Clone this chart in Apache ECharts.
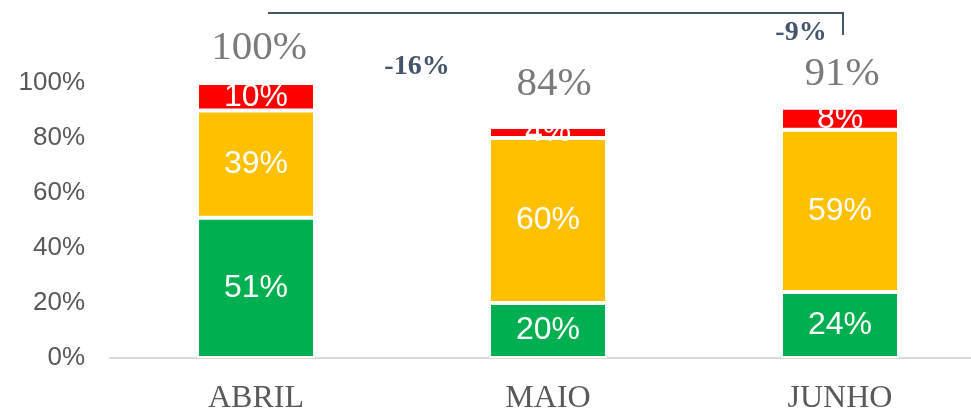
<!DOCTYPE html>
<html>
<head>
<meta charset="utf-8">
<script src="https://cdn.jsdelivr.net/npm/echarts@6/dist/echarts.min.js"></script>
<style>
    html, body { margin: 0; padding: 0; background: #fff; }
    #chart { width: 971px; height: 410px; }
</style>
</head>
<body>
<div id="chart"></div>
<script>
    // dados
    var meses = ['ABRIL', 'MAIO', 'JUNHO'];
    var verde = [51, 20, 24];
    var amarelo = [39, 60, 59];
    var vermelho = [10, 4, 8];
    var variacoes = ['-16%', '-9%'];

    // deslocamento dos rótulos de total (estilo)
    var offsetTotal = [[3, -35], [6, -43], [2, -34]];

    var totais = meses.map(function (m, i) {
        return verde[i] + amarelo[i] + vermelho[i];
    });

    var chart = echarts.init(document.getElementById('chart'));

    function serieBarra(nome, dados, cor) {
        return {
            name: nome,
            type: 'bar',
            stack: 'total',
            barWidth: 118,
            data: dados,
            itemStyle: { color: cor, borderColor: '#fff', borderWidth: 2 },
            label: {
                show: true,
                position: 'inside',
                formatter: '{c}%',
                color: '#fff',
                fontFamily: 'Liberation Sans',
                fontSize: 32
            }
        };
    }

    var option = {
        animation: false,
        backgroundColor: '#fff',
        grid: { left: 110, width: 876, top: 83, bottom: 52, outerBoundsMode: 'none', containLabel: false },
        xAxis: {
            type: 'category',
            data: meses,
            axisLine: { lineStyle: { color: '#D9D9D9', width: 2 } },
            axisTick: { show: false },
            axisLabel: {
                color: '#595959',
                fontFamily: 'Liberation Serif',
                fontSize: 32,
                margin: 25
            }
        },
        yAxis: {
            type: 'value',
            min: 0,
            max: 100,
            interval: 20,
            axisLine: { show: false },
            axisTick: { show: false },
            splitLine: { show: false },
            axisLabel: {
                formatter: '{value}%',
                color: '#595959',
                fontFamily: 'Liberation Sans',
                fontSize: 26,
                margin: 25
            }
        },
        series: [
            serieBarra('Verde', verde, '#00B050'),
            serieBarra('Amarelo', amarelo, '#FFC000'),
            serieBarra('Vermelho', vermelho, '#FF0000'),
            {
                name: 'Total',
                type: 'scatter',
                symbolSize: 0,
                data: totais.map(function (t, i) {
                    return { value: t, label: { offset: offsetTotal[i] } };
                }),
                label: {
                    show: true,
                    position: 'inside',
                    formatter: '{c}%',
                    color: '#595959',
                    fontFamily: 'Liberation Serif',
                    fontSize: 41
                }
            }
        ]
    };
    chart.setOption(option);

    var px = function (m) { return chart.convertToPixel({ xAxisIndex: 0 }, m); };
    var xIni = px(meses[0]) + 12;
    var xFim = px(meses[2]) + 3;

    chart.setOption({
        graphic: [
            {
                type: 'polyline',
                shape: { points: [[xIni, 13], [xFim, 13], [xFim, 35]] },
                style: { stroke: '#44546A', lineWidth: 2, fill: null }
            },
            {
                type: 'text',
                x: (px(meses[0]) + px(meses[1])) / 2 + 15,
                y: 67,
                style: {
                    text: variacoes[0],
                    fill: '#44546A',
                    font: 'bold 28px "Liberation Serif"',
                    align: 'center',
                    verticalAlign: 'middle'
                }
            },
            {
                type: 'text',
                x: px(meses[2]) - 39,
                y: 33,
                style: {
                    text: variacoes[1],
                    fill: '#44546A',
                    font: 'bold 28px "Liberation Serif"',
                    align: 'center',
                    verticalAlign: 'middle'
                }
            }
        ]
    });
</script>
</body>
</html>
